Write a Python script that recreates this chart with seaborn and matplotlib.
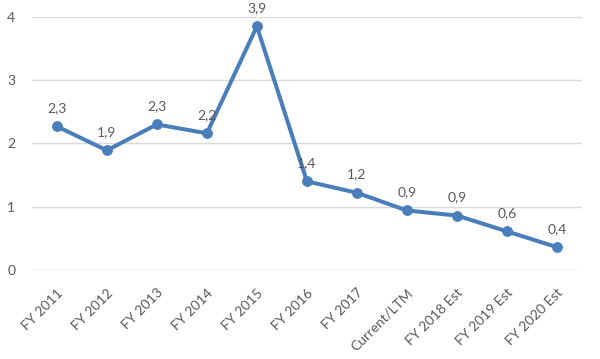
import matplotlib
matplotlib.use("Agg")
import matplotlib.pyplot as plt
import seaborn as sns
import pandas as pd

# chart data
periods = ["FY 2011", "FY 2012", "FY 2013", "FY 2014", "FY 2015", "FY 2016",
           "FY 2017", "Current/LTM", "FY 2018 Est", "FY 2019 Est", "FY 2020 Est"]
values = [2.27, 1.89, 2.30, 2.16, 3.85, 1.40, 1.22, 0.94, 0.86, 0.61, 0.36]
y_ticks = [0, 1, 2, 3, 4]

blue = "#4A7EBB"
grey = "#595959"

sns.set_style("white")
plt.rcParams['font.family'] = ['Lato', 'DejaVu Sans']

df = pd.DataFrame({"period": periods, "value": values})
df["pos"] = range(len(df))

fig = plt.figure(figsize=(6, 3.59), dpi=100)
ax = fig.add_axes([0.053, 0.248, 0.917, 0.705])

sns.lineplot(data=df, x="pos", y="value", ax=ax, color=blue, linewidth=2.9,
             marker="o", markersize=7, markeredgecolor=blue, clip_on=False, zorder=3)

# data labels
for i, v in zip(df["pos"], df["value"]):
    ax.annotate(f"{v:.1f}".replace(".", ","), (i, v), xytext=(0, 9),
                textcoords="offset points", ha="center", va="bottom",
                fontsize=10, color=grey)

ax.set_xlim(-0.5, len(periods) - 0.5)
ax.set_ylim(0, 4)
ax.set_yticks(y_ticks)
ax.set_yticklabels([str(t) for t in y_ticks])
ax.set_xticks(df["pos"])
ax.set_xticklabels(periods, rotation=45, ha="right", rotation_mode="anchor")
ax.tick_params(axis="both", length=0, labelsize=10, labelcolor=grey)
ax.tick_params(axis="x", pad=12)
ax.tick_params(axis="y", pad=12)
ax.grid(axis="y", color="#D9D9D9", linewidth=1)
ax.set_axisbelow(True)
for s in ax.spines.values():
    s.set_visible(False)
ax.set_xlabel("")
ax.set_ylabel("")

fig.savefig("out.png", dpi=100)
